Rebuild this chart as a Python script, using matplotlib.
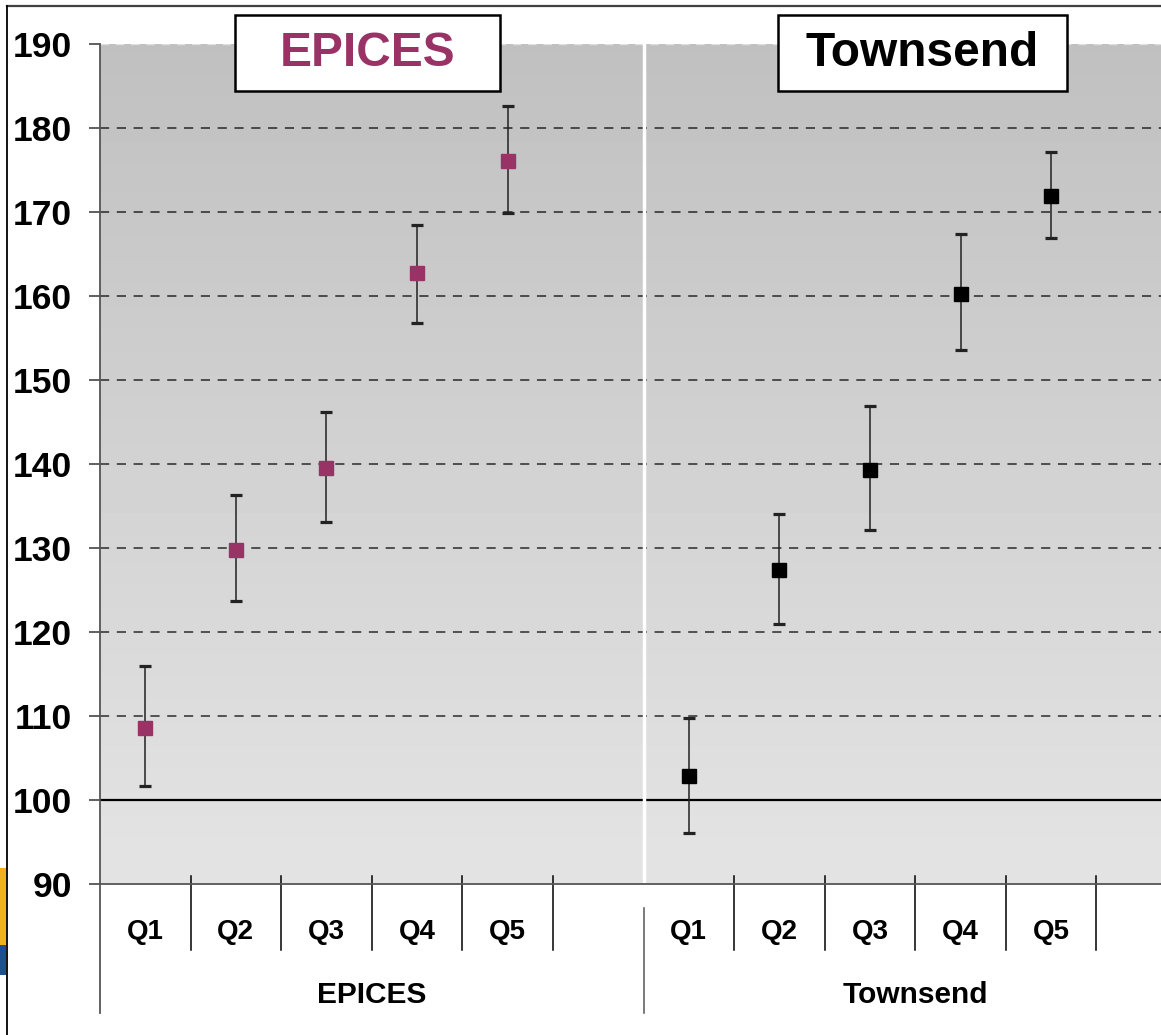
import matplotlib.pyplot as plt
import matplotlib.transforms as mtransforms
import numpy as np
from matplotlib.lines import Line2D
from matplotlib.patches import Rectangle

plt.rcParams["font.family"] = ["Liberation Sans", "DejaVu Sans"]
plt.rcParams["font.weight"] = "bold"

groups = ["EPICES", "Townsend"]
quintiles = ["Q1", "Q2", "Q3", "Q4", "Q5"]

epices_mean = [108.6, 129.8, 139.5, 162.7, 176.1]
epices_low = [101.7, 123.7, 133.1, 156.8, 169.9]
epices_high = [116.0, 136.3, 146.2, 168.5, 182.6]

townsend_mean = [102.8, 127.4, 139.3, 160.2, 171.9]
townsend_low = [96.1, 121.0, 132.1, 153.6, 166.9]
townsend_high = [109.8, 134.0, 146.9, 167.4, 177.1]

yticks = [90, 100, 110, 120, 130, 140, 150, 160, 170, 180, 190]

maroon = "#993366"
W, H = 1161, 1035

fig = plt.figure(figsize=(W / 100, H / 100), dpi=100)
ax = fig.add_axes([100 / W, 151 / H, 1087 / W, 840 / H])

n_slots = 12
ax.set_xlim(0, n_slots)

# gradient background: light at the bottom, darker at the top
grad = np.linspace(0.894, 0.753, 256).reshape(-1, 1)
ax.imshow(grad, extent=[0, n_slots, 90, 190], origin="lower", cmap="gray",
          vmin=0, vmax=1, aspect="auto", zorder=0)
ax.set_ylim(90, 190)

for y in yticks[2:-1]:
    ax.axhline(y, color="black", lw=1.1, ls=(0, (6, 5)), alpha=0.8, zorder=1)
ax.axhline(190, color="white", lw=1.0, ls=(0, (6, 5)), alpha=0.5, zorder=1)
ax.axhline(100, color="black", lw=1.6, zorder=1)
ax.axvline(6, color="white", lw=2.5, zorder=1)

series = [
    (np.arange(5) + 0.5, epices_mean, epices_low, epices_high, maroon),
    (np.arange(5) + 6.5, townsend_mean, townsend_low, townsend_high, "black"),
]
for xs, mean, low, high, col in series:
    mean = np.array(mean)
    yerr = [mean - np.array(low), np.array(high) - mean]
    _, caps, _ = ax.errorbar(xs, mean, yerr=yerr, fmt="none", ecolor="#222222",
                             elinewidth=1.1, capsize=4.3, capthick=2.3, zorder=3)
    for c in caps:
        c.set_color(col)
    ax.plot(xs, mean, "s", color=col, markersize=10, zorder=4)

for s in ["top", "right"]:
    ax.spines[s].set_visible(False)
ax.spines["left"].set_color("#555555")
ax.spines["left"].set_linewidth(1.3)
ax.spines["bottom"].set_color("#555555")
ax.spines["bottom"].set_linewidth(1.3)
ax.spines["left"].set_zorder(5)

ax.set_yticks(yticks)
ax.set_yticklabels([str(v) for v in yticks], fontsize=25.5, fontweight="bold")
ax.tick_params(axis="y", direction="out", length=8, width=1.2, pad=12, color="#444444")
ax.set_xticks([])

# category axis: quintile ticks, labels and group labels
trans = mtransforms.blended_transform_factory(ax.transData, fig.transFigure)
y_axis = 151 / H
for k in range(n_slots + 1):
    if k in (0, 6, 12):
        continue
    ax.add_line(Line2D([k, k], [(1035 - 876) / H, (1035 - 950) / H], transform=trans,
                       color="black", lw=1.1, clip_on=False))
ax.add_line(Line2D([0, 0], [y_axis, (1035 - 1013) / H], transform=trans,
                   color="#555555", lw=1.3, clip_on=False))
ax.add_line(Line2D([6, 6], [(1035 - 908) / H, (1035 - 1013) / H], transform=trans,
                   color="#555555", lw=1.1, clip_on=False))

for g, offset in enumerate([0, 6]):
    for i, q in enumerate(quintiles):
        ax.text(offset + i + 0.5, (1035 - 932) / H, q, transform=trans,
                ha="center", va="center", fontsize=20, fontweight="bold")
    ax.text(offset + 3, (1035 - 995) / H, groups[g], transform=trans,
            ha="center", va="center", fontsize=21.5, fontweight="bold")

# title boxes
for name, x0, x1, col in [("EPICES", 235, 500, maroon), ("Townsend", 778, 1067, "black")]:
    fig.patches.append(Rectangle((x0 / W, 1 - 91 / H), (x1 - x0) / W, 76 / H,
                                 transform=fig.transFigure, facecolor="white",
                                 edgecolor="black", lw=1.8, zorder=6))
    fig.text((x0 + x1) / 2 / W, 1 - 53 / H, name, ha="center", va="center",
             fontsize=34.5, fontweight="bold", color=col, zorder=7)

# slide frame and logo fragment
fig.add_artist(Line2D([7 / W, 1], [1 - 6 / H, 1 - 6 / H], transform=fig.transFigure,
                      color="#404040", lw=1.6))
fig.add_artist(Line2D([7 / W, 7 / W], [0, 1 - 6 / H], transform=fig.transFigure,
                      color="black", lw=1.3))
fig.patches.append(Rectangle((0, 1 - 945 / H), 6 / W, 77 / H, transform=fig.transFigure,
                             facecolor="#f0b020", edgecolor="none"))
fig.patches.append(Rectangle((0, 1 - 975 / H), 6 / W, 30 / H, transform=fig.transFigure,
                             facecolor="#1f4f8f", edgecolor="none"))

fig.savefig("out.png", dpi=100)
